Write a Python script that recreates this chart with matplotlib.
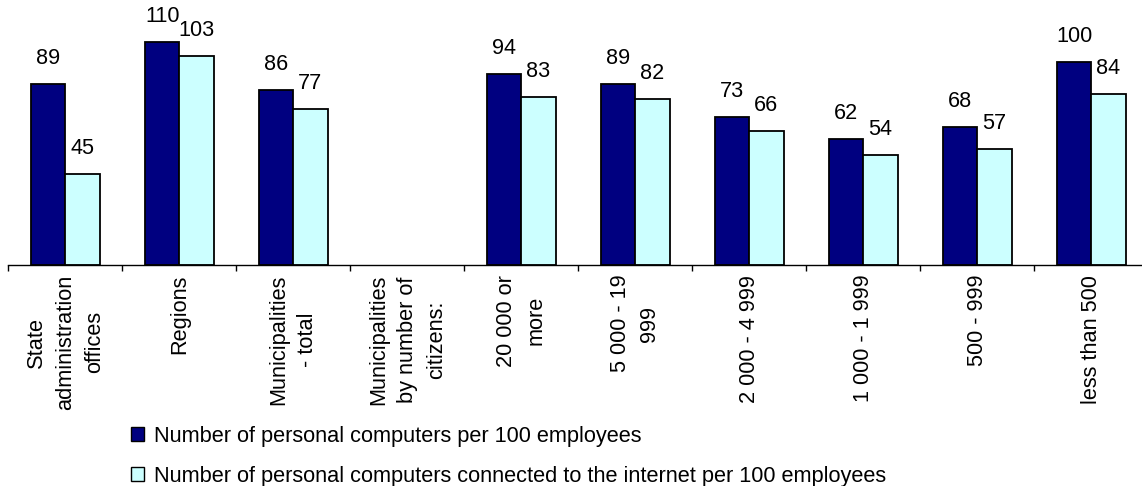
import numpy as np
import matplotlib
matplotlib.use("Agg")
import matplotlib.pyplot as plt
from matplotlib.patches import Patch

plt.rcParams['font.family'] = ['Liberation Sans', 'DejaVu Sans']

# categories and values
categories = [
    "State\nadministration\noffices",
    "Regions",
    "Municipalities\n- total",
    "Municipalities\nby number of\ncitizens:",
    "20 000 or\nmore",
    "5 000 - 19\n999",
    "2 000 - 4 999",
    "1 000 - 1 999",
    "500 - 999",
    "less than 500",
]
pcs_per_100 = [89, 110, 86, np.nan, 94, 89, 73, 62, 68, 100]
pcs_internet_per_100 = [45, 103, 77, np.nan, 83, 82, 66, 54, 57, 84]
series_names = [
    "Number of personal computers per 100 employees",
    "Number of personal computers connected to the internet per 100 employees",
]

W, H = 1142, 486
fig = plt.figure(figsize=(W / 100, H / 100), dpi=100)
ax = fig.add_axes([8.4 / W, (H - 265) / H, 1140 / W, 243.6 / H])

x = np.arange(len(categories))
bw = 0.3
colors = ['#000080', '#CCFFFF']
for i, (vals, col) in enumerate(zip([pcs_per_100, pcs_internet_per_100], colors)):
    pos = x + (i - 0.5) * bw
    ax.bar(pos, vals, width=bw, color=col, edgecolor='black', linewidth=1.3)
    for px, v in zip(pos, vals):
        if np.isnan(v):
            continue
        ax.annotate(f"{v:g}", (px, v), xytext=(0, 14.4), textcoords='offset points',
                    ha='center', va='baseline', fontsize=15.6, annotation_clip=False)

ax.set_xlim(-0.5, len(categories) - 0.5)
ax.set_ylim(0, 120)
for s in ['top', 'right', 'left']:
    ax.spines[s].set_visible(False)
ax.spines['bottom'].set_linewidth(1.0)
ax.set_yticks([])

ax.set_xticks(x)
ax.set_xticklabels(categories, rotation=90, ha='center', va='top',
                   multialignment='center', fontsize=15.7, linespacing=1.5)
ax.set_xticks(np.arange(-0.5, len(categories)), minor=True)
ax.tick_params(axis='x', which='major', length=0, pad=7)
ax.tick_params(axis='x', which='minor', length=4.5, width=1.0, direction='out')

handles = [Patch(facecolor=c, edgecolor='black', linewidth=1.0) for c in colors]
fig.legend(handles, series_names, loc='upper left', bbox_to_anchor=(131 / W, 1 - 426 / H),
           frameon=False, fontsize=15.7, handlelength=0.6, handleheight=0.6,
           handletextpad=0.45, labelspacing=0.85, borderpad=0, borderaxespad=0)

fig.savefig("out.png", dpi=100)
